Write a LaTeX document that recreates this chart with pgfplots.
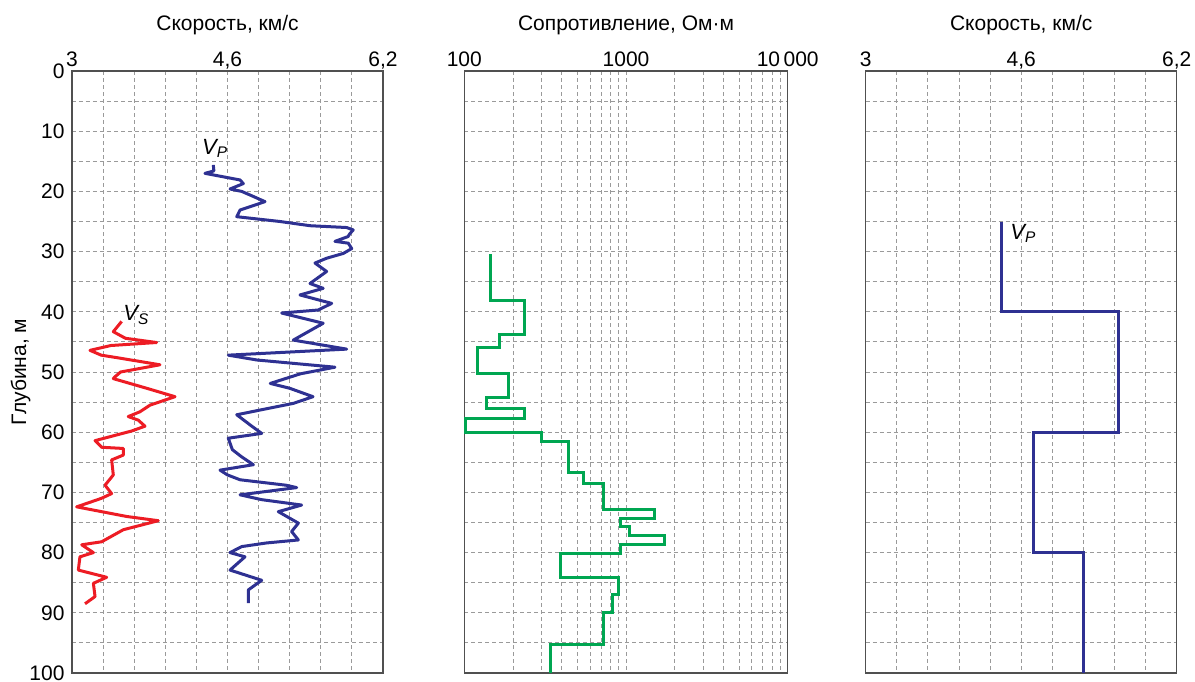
\documentclass[border=0pt]{standalone}
\usepackage{pgfplots}
\pgfplotsset{compat=1.18}
\usepackage{fontspec}
\setmainfont{Liberation Sans}
\definecolor{vpblue}{HTML}{2E3192}
\definecolor{vsred}{HTML}{ED1C24}
\definecolor{rgreen}{HTML}{00A651}
\definecolor{axgray}{HTML}{505050}
\definecolor{grdgray}{HTML}{9A9A9A}
\pgfplotsset{
  panel/.style={
    scale only axis, height=602pt, anchor=south west,
    y dir=reverse, ymin=0, ymax=100,
    ytick={0,10,...,100}, minor ytick={5,15,...,95},
    xticklabel pos=upper,
    grid=both,
    major grid style={grdgray, dash pattern=on 4pt off 3pt, line width=0.9pt},
    minor grid style={grdgray, dash pattern=on 4pt off 3pt, line width=0.9pt},
    major tick length=0pt, minor tick length=0pt,
    axis line style={axgray, line width=1.5pt},
    tick label style={font=\fontsize{21}{24}\selectfont},
    label style={font=\fontsize{21}{24}\selectfont},
    xticklabel style={anchor=base, yshift=5pt, inner sep=0pt},
    yticklabel style={xshift=-4pt},
    xlabel style={at={(axis description cs:0.5,1)}, anchor=base, yshift=41pt, inner sep=0pt},
    /pgf/number format/assume math mode=true,
    clip=false,
  },
}
\tikzset{vellab/.style={font=\fontsize{22}{24}\selectfont\itshape}}
\begin{document}
\begin{tikzpicture}
\useasboundingbox (0,0) rectangle (1195pt,681pt);
% ---------------- left panel ----------------
\begin{axis}[panel, at={(72pt,8pt)}, width=311pt,
  xmin=3, xmax=6.2,
  xtick={3,4.6,6.2}, xticklabels={3,{4,6},{6,2}},
  minor xtick={3.32,3.64,3.96,4.28,4.92,5.24,5.56,5.88},
  xlabel={Скорость, км/с},
  ylabel={Глубина, м}, ylabel shift=-8pt]
\addplot[vpblue, line width=3pt, line join=round] coordinates {
(4.454,15.6) (4.46,16.6) (4.368,17.0) (4.729,18.1) (4.763,18.7) (4.626,19.6)
(4.746,20.0) (4.832,20.6) (4.986,21.7) (4.729,23.1) (4.695,24.2) (5.14,25.0)
(5.45,25.7) (5.826,26.0) (5.894,26.4) (5.86,27.0) (5.84,27.5) (5.706,28.3)
(5.843,28.6) (5.878,29.5) (5.792,30.3) (5.62,31.1) (5.50,31.9) (5.62,33.3)
(5.449,35.3) (5.585,36.1) (5.346,37.2) (5.672,38.6) (5.534,39.7) (5.157,40.2)
(5.585,41.9) (5.277,44.7) (5.826,46.2) (4.608,47.2) (4.90,48.0) (5.706,49.2)
(5.35,50.3) (5.04,51.9) (5.24,52.7) (5.48,54.1) (5.28,55.2) (4.695,57.1)
(4.85,59.0) (4.952,60.2) (4.608,61.0) (4.65,62.9) (4.746,64.1) (4.866,65.4)
(4.523,66.3) (4.60,67.1) (4.729,67.9) (5.2,68.8) (5.312,69.2) (4.729,70.4)
(4.95,71.2) (5.363,72.1) (5.123,73.2) (5.329,75.1) (5.26,76.5) (5.329,77.9)
(5.0,78.4) (4.746,79.0) (4.626,80.0) (4.78,80.7) (4.626,82.9) (4.952,84.6)
(4.814,86.2) (4.814,88.4)
};
\addplot[vsred, line width=3pt, line join=round] coordinates {
(3.511,41.6) (3.425,43.3) (3.55,44.4) (3.871,45.1) (3.40,45.6) (3.185,46.4)
(3.30,47.2) (3.494,47.7) (3.905,48.8) (3.50,50.0) (3.442,50.8) (3.425,51.1)
(3.768,52.7) (4.06,54.1) (3.803,55.5) (3.70,56.6) (3.579,57.4) (3.682,58.0)
(3.751,59.0) (3.614,59.8) (3.237,61.4) (3.305,62.5) (3.528,62.7) (3.528,63.8)
(3.408,64.6) (3.425,67.1) (3.34,68.8) (3.408,70.2) (3.30,71.0) (3.048,72.4)
(3.563,74.0) (3.888,74.7) (3.528,76.2) (3.305,78.2) (3.10,78.7) (3.22,80.0)
(3.082,80.7) (3.065,82.9) (3.357,84.1) (3.22,85.1) (3.237,87.3) (3.134,88.5)
};
\node[vellab] at (axis cs:4.47,12.9) {V\textsubscript{P}};
\node[vellab] at (axis cs:3.66,40.5) {V\textsubscript{S}};
\end{axis}
% ---------------- middle panel ----------------
\begin{axis}[panel, at={(464.3pt,8pt)}, width=323.4pt,
  xmode=log, xmin=100, xmax=10000,
  xtick={100,1000,10000}, xticklabels={100,1000,10\,000},
  minor xtick={200,300,400,500,600,700,800,900,2000,3000,4000,5000,6000,7000,8000,9000},
  yticklabels={},
  xlabel={Сопротивление, Ом·м}]
\addplot[rgreen, line width=3pt, line join=miter] coordinates {
(145.6,30.4) (145.6,38.2) (237,38.2) (237,43.7) (164.7,43.7) (164.7,45.9)
(120.3,45.9) (120.3,50.2) (187,50.2) (187,54.2) (137.5,54.2) (137.5,56.0)
(237,56.0) (237,57.8) (101,57.8) (101,60.1) (301,60.1) (301,61.5)
(440,61.5) (440,66.7) (544,66.7) (544,68.6) (724,68.6) (724,72.9)
(1511,72.9) (1511,74.3) (927,74.3) (927,75.7) (1048,75.7) (1048,77.2)
(1718,77.2) (1718,78.6) (927,78.6) (927,80.1) (391,80.1) (391,84.2)
(896,84.2) (896,87.0) (823,87.0) (823,89.9) (724,89.9) (724,95.3)
(342,95.3) (342,100)
};
\end{axis}
% ---------------- right panel ----------------
\begin{axis}[panel, at={(865.7pt,8pt)}, width=311pt,
  xmin=3, xmax=6.2,
  xtick={3,4.6,6.2}, xticklabels={3,{4,6},{6,2}},
  minor xtick={3.32,3.64,3.96,4.28,4.92,5.24,5.56,5.88},
  yticklabels={},
  xlabel={Скорость, км/с}]
\addplot[vpblue, line width=3pt, line join=miter] coordinates {
(4.40,25) (4.40,40) (5.60,40) (5.60,60) (4.725,60) (4.725,80) (5.24,80) (5.24,100)
};
\node[vellab] at (axis cs:4.62,27.0) {V\textsubscript{P}};
\end{axis}
\end{tikzpicture}
\end{document}
